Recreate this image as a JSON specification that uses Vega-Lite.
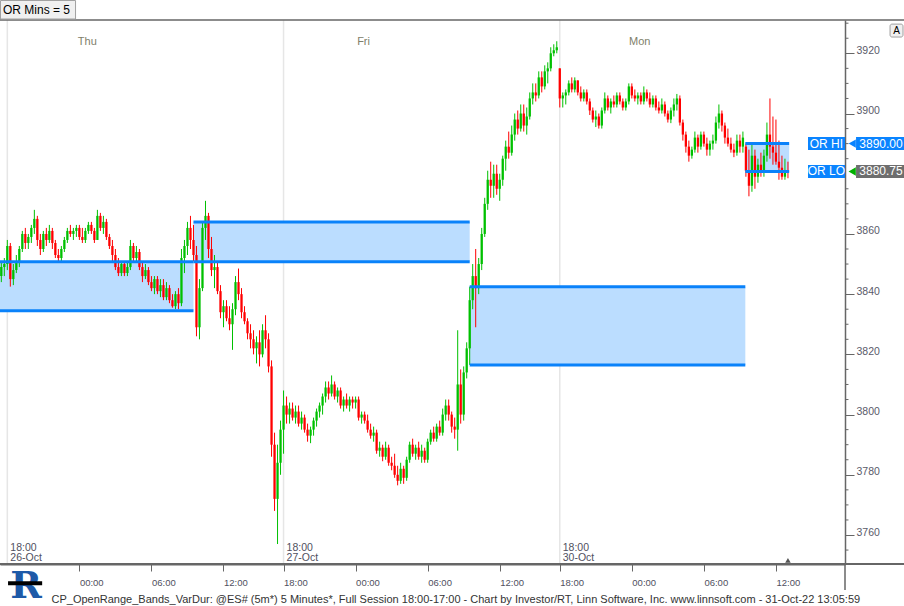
{
"$schema": "https://vega.github.io/schema/vega-lite/v6.json",
"width": 845, "height": 544,
"autosize": {"type": "none"},
"padding": {"left": 0, "top": 20, "right": 59, "bottom": 42},
"background": "white",
"config": {"view": {"stroke": null}, "font": "Liberation Sans"},
"datasets": {
"bars": [
{"t":-0.5,"o":3846,"h":3851,"l":3844,"c":3849},{"t":-0.25,"o":3849,"h":3852,"l":3846,"c":3850},{"t":0,"o":3850,"h":3858,"l":3848,"c":3856},{"t":0.25,"o":3856,"h":3857,"l":3842.5,"c":3845},{"t":0.5,"o":3845,"h":3850,"l":3843,"c":3848},{"t":0.75,"o":3848,"h":3853,"l":3847,"c":3851},{"t":1,"o":3851,"h":3856,"l":3849,"c":3855},{"t":1.25,"o":3855,"h":3861,"l":3854,"c":3860},{"t":1.5,"o":3860,"h":3862,"l":3855,"c":3857},{"t":1.75,"o":3857,"h":3860,"l":3855,"c":3859},
{"t":2,"o":3859,"h":3863,"l":3857,"c":3862},{"t":2.25,"o":3862,"h":3868,"l":3860,"c":3865},{"t":2.5,"o":3865,"h":3866,"l":3856,"c":3858},{"t":2.75,"o":3858,"h":3860,"l":3853,"c":3855},{"t":3,"o":3855,"h":3861,"l":3854,"c":3860},{"t":3.25,"o":3860,"h":3862,"l":3856,"c":3858},{"t":3.5,"o":3858,"h":3863,"l":3857,"c":3861},{"t":3.75,"o":3861,"h":3862,"l":3855,"c":3857},{"t":4,"o":3857,"h":3858,"l":3852,"c":3853},{"t":4.25,"o":3853,"h":3855,"l":3851,"c":3852},
{"t":4.5,"o":3852,"h":3856,"l":3851,"c":3855},{"t":4.75,"o":3855,"h":3859,"l":3854,"c":3858},{"t":5,"o":3858,"h":3862,"l":3857,"c":3861},{"t":5.25,"o":3861,"h":3863,"l":3859,"c":3860},{"t":5.5,"o":3860,"h":3862,"l":3858,"c":3861},{"t":5.75,"o":3861,"h":3863,"l":3859,"c":3862},{"t":6,"o":3862,"h":3863,"l":3858,"c":3859},{"t":6.25,"o":3859,"h":3862,"l":3857,"c":3858},{"t":6.5,"o":3858,"h":3862,"l":3857,"c":3861},{"t":6.75,"o":3861,"h":3864,"l":3860,"c":3863},
{"t":7,"o":3863,"h":3864,"l":3860,"c":3861},{"t":7.25,"o":3861,"h":3862,"l":3857,"c":3858},{"t":7.5,"o":3858,"h":3868,"l":3858,"c":3866},{"t":7.75,"o":3866,"h":3867,"l":3861,"c":3862},{"t":8,"o":3862,"h":3866,"l":3860,"c":3864},{"t":8.25,"o":3864,"h":3865,"l":3858,"c":3859},{"t":8.5,"o":3859,"h":3860,"l":3855,"c":3856},{"t":8.75,"o":3856,"h":3858,"l":3851,"c":3853},{"t":9,"o":3853,"h":3855,"l":3848,"c":3849},{"t":9.25,"o":3849,"h":3852,"l":3846,"c":3847},
{"t":9.5,"o":3847,"h":3851,"l":3846,"c":3850},{"t":9.75,"o":3850,"h":3851,"l":3846,"c":3847},{"t":10,"o":3847,"h":3851,"l":3846,"c":3849},{"t":10.25,"o":3849,"h":3858,"l":3848,"c":3856},{"t":10.5,"o":3856,"h":3857,"l":3851,"c":3852},{"t":10.75,"o":3852,"h":3856,"l":3851,"c":3854},{"t":11,"o":3854,"h":3855,"l":3848,"c":3849},{"t":11.25,"o":3849,"h":3851,"l":3844,"c":3846},{"t":11.5,"o":3846,"h":3850,"l":3845,"c":3848},{"t":11.75,"o":3848,"h":3849,"l":3843,"c":3844},
{"t":12,"o":3844,"h":3846,"l":3841,"c":3842},{"t":12.25,"o":3842,"h":3846,"l":3840,"c":3845},{"t":12.5,"o":3845,"h":3846,"l":3840,"c":3841},{"t":12.75,"o":3841,"h":3845,"l":3839,"c":3843},{"t":13,"o":3843,"h":3845,"l":3838,"c":3839},{"t":13.25,"o":3839,"h":3844,"l":3838,"c":3842},{"t":13.5,"o":3842,"h":3843,"l":3837,"c":3838},{"t":13.75,"o":3838,"h":3840,"l":3835.5,"c":3836},{"t":14,"o":3836,"h":3841,"l":3835,"c":3840},{"t":14.25,"o":3840,"h":3842,"l":3835,"c":3837},
{"t":14.5,"o":3837,"h":3855,"l":3836,"c":3852},{"t":14.75,"o":3852,"h":3858,"l":3847,"c":3856},{"t":15,"o":3856,"h":3864,"l":3853,"c":3862},{"t":15.25,"o":3862,"h":3866,"l":3855,"c":3858},{"t":15.5,"o":3858,"h":3863,"l":3851,"c":3853},{"t":15.75,"o":3853,"h":3856,"l":3826,"c":3829},{"t":16,"o":3829,"h":3845,"l":3825,"c":3842},{"t":16.25,"o":3842,"h":3864,"l":3841,"c":3862},{"t":16.5,"o":3862,"h":3871,"l":3858,"c":3866},{"t":16.75,"o":3866,"h":3867,"l":3852,"c":3855},
{"t":17,"o":3855,"h":3859,"l":3846,"c":3848},{"t":17.25,"o":3848,"h":3853,"l":3842,"c":3849},{"t":17.5,"o":3849,"h":3851,"l":3840,"c":3841},{"t":17.75,"o":3841,"h":3843,"l":3832,"c":3834},{"t":18,"o":3834,"h":3838,"l":3829,"c":3836},{"t":18.25,"o":3836,"h":3838,"l":3831,"c":3832},{"t":18.5,"o":3832,"h":3836,"l":3828,"c":3830},{"t":18.75,"o":3830,"h":3837,"l":3821.5,"c":3835},{"t":19,"o":3835,"h":3846,"l":3833,"c":3844},{"t":19.25,"o":3844,"h":3848.5,"l":3838,"c":3840},
{"t":19.5,"o":3840,"h":3842,"l":3832,"c":3834},{"t":19.75,"o":3834,"h":3836,"l":3830,"c":3831},{"t":20,"o":3831,"h":3832,"l":3825,"c":3827},{"t":20.25,"o":3827,"h":3830,"l":3822,"c":3825},{"t":20.5,"o":3825,"h":3828,"l":3820,"c":3822},{"t":20.75,"o":3822,"h":3826,"l":3817,"c":3824},{"t":21,"o":3824,"h":3828,"l":3816,"c":3820},{"t":21.25,"o":3820,"h":3830,"l":3819,"c":3828},{"t":21.5,"o":3828,"h":3833,"l":3822,"c":3825},{"t":21.75,"o":3825,"h":3827,"l":3814,"c":3816},
{"t":22,"o":3816,"h":3818,"l":3786,"c":3790},{"t":22.25,"o":3790,"h":3794,"l":3768,"c":3772},{"t":22.5,"o":3772,"h":3790,"l":3757,"c":3784},{"t":22.75,"o":3784,"h":3798,"l":3780,"c":3795},
{"t":23,"o":3795,"h":3808,"l":3787,"c":3803},{"t":23.25,"o":3803,"h":3806,"l":3797,"c":3800},{"t":23.5,"o":3800,"h":3804,"l":3797,"c":3802},{"t":23.75,"o":3802,"h":3804,"l":3798,"c":3799},{"t":24,"o":3799,"h":3803,"l":3797,"c":3801},{"t":24.25,"o":3801,"h":3803,"l":3796,"c":3797},{"t":24.5,"o":3797,"h":3801,"l":3795,"c":3799},{"t":24.75,"o":3799,"h":3800,"l":3794,"c":3795},{"t":25,"o":3795,"h":3797,"l":3791,"c":3793},{"t":25.25,"o":3793,"h":3796,"l":3790.5,"c":3795},
{"t":25.5,"o":3795,"h":3799,"l":3793,"c":3798},{"t":25.75,"o":3798,"h":3802,"l":3796,"c":3801},{"t":26,"o":3801,"h":3804,"l":3799,"c":3803},{"t":26.25,"o":3803,"h":3807,"l":3800,"c":3806},{"t":26.5,"o":3806,"h":3811,"l":3804,"c":3809},{"t":26.75,"o":3809,"h":3811,"l":3805,"c":3807},{"t":27,"o":3807,"h":3813,"l":3806,"c":3810},{"t":27.25,"o":3810,"h":3811,"l":3805,"c":3806},{"t":27.5,"o":3806,"h":3809,"l":3804,"c":3808},{"t":27.75,"o":3808,"h":3809,"l":3802,"c":3803},
{"t":28,"o":3803,"h":3806,"l":3801,"c":3805},{"t":28.25,"o":3805,"h":3807,"l":3802,"c":3803},{"t":28.5,"o":3803,"h":3806,"l":3801,"c":3805},{"t":28.75,"o":3805,"h":3806,"l":3802,"c":3804},{"t":29,"o":3804,"h":3806,"l":3802,"c":3805},{"t":29.25,"o":3805,"h":3806,"l":3798,"c":3799},{"t":29.5,"o":3799,"h":3801,"l":3797,"c":3800},{"t":29.75,"o":3800,"h":3801,"l":3797,"c":3798},{"t":30,"o":3798,"h":3800,"l":3794,"c":3795},{"t":30.25,"o":3795,"h":3797,"l":3792,"c":3793},
{"t":30.5,"o":3793,"h":3796,"l":3791,"c":3794},{"t":30.75,"o":3794,"h":3795,"l":3787,"c":3788},{"t":31,"o":3788,"h":3791,"l":3786,"c":3789},{"t":31.25,"o":3789,"h":3790,"l":3784.5,"c":3786},{"t":31.5,"o":3786,"h":3791,"l":3785,"c":3789},{"t":31.75,"o":3789,"h":3790,"l":3783,"c":3784},{"t":32,"o":3784,"h":3786,"l":3781.5,"c":3783},{"t":32.25,"o":3783,"h":3787,"l":3779,"c":3780},{"t":32.5,"o":3780,"h":3783,"l":3776.5,"c":3778},{"t":32.75,"o":3778,"h":3784,"l":3777,"c":3782},
{"t":33,"o":3782,"h":3783,"l":3777,"c":3779},{"t":33.25,"o":3779,"h":3786,"l":3778,"c":3785},{"t":33.5,"o":3785,"h":3791,"l":3784,"c":3790},{"t":33.75,"o":3790,"h":3792,"l":3786,"c":3787},{"t":34,"o":3787,"h":3790,"l":3785,"c":3789},{"t":34.25,"o":3789,"h":3791,"l":3785,"c":3786},{"t":34.5,"o":3786,"h":3790,"l":3784,"c":3788},{"t":34.75,"o":3788,"h":3789,"l":3784,"c":3785},{"t":35,"o":3785,"h":3792,"l":3784,"c":3791},{"t":35.25,"o":3791,"h":3795,"l":3790,"c":3794},
{"t":35.5,"o":3794,"h":3796,"l":3791,"c":3792},{"t":35.75,"o":3792,"h":3797,"l":3791,"c":3796},{"t":36,"o":3796,"h":3798,"l":3793,"c":3794},{"t":36.25,"o":3794,"h":3802,"l":3793,"c":3800},{"t":36.5,"o":3800,"h":3805,"l":3798,"c":3803},{"t":36.75,"o":3803,"h":3805,"l":3798,"c":3800},{"t":37,"o":3800,"h":3801,"l":3794,"c":3796},{"t":37.25,"o":3796,"h":3799,"l":3792,"c":3795},{"t":37.5,"o":3795,"h":3828,"l":3788,"c":3810},{"t":37.75,"o":3810,"h":3815,"l":3797,"c":3800},
{"t":38,"o":3800,"h":3816,"l":3798,"c":3814},{"t":38.25,"o":3814,"h":3824,"l":3812,"c":3822},{"t":38.5,"o":3822,"h":3842.5,"l":3816.5,"c":3838},{"t":38.75,"o":3838,"h":3850,"l":3835,"c":3846},{"t":39,"o":3846,"h":3855,"l":3829,"c":3842},{"t":39.25,"o":3842,"h":3852,"l":3840,"c":3850},{"t":39.5,"o":3850,"h":3862,"l":3848,"c":3860},{"t":39.75,"o":3860,"h":3872,"l":3859,"c":3870},{"t":40,"o":3870,"h":3881,"l":3868,"c":3878},{"t":40.25,"o":3878,"h":3884,"l":3872,"c":3876},
{"t":40.5,"o":3876,"h":3883,"l":3872,"c":3880},{"t":40.75,"o":3880,"h":3883,"l":3873,"c":3875},{"t":41,"o":3875,"h":3880,"l":3871,"c":3878},{"t":41.25,"o":3878,"h":3886,"l":3876,"c":3885},{"t":41.5,"o":3885,"h":3891,"l":3881,"c":3889},{"t":41.75,"o":3889,"h":3894,"l":3885,"c":3887},{"t":42,"o":3887,"h":3896,"l":3886,"c":3893},{"t":42.25,"o":3893,"h":3900,"l":3891,"c":3898},{"t":42.5,"o":3898,"h":3901,"l":3893,"c":3895},{"t":42.75,"o":3895,"h":3903,"l":3894,"c":3900},
{"t":43,"o":3900,"h":3903,"l":3894,"c":3896},{"t":43.25,"o":3896,"h":3902,"l":3893,"c":3899},{"t":43.5,"o":3899,"h":3907,"l":3898,"c":3905},{"t":43.75,"o":3905,"h":3910,"l":3903,"c":3907},{"t":44,"o":3907,"h":3910,"l":3904,"c":3906},{"t":44.25,"o":3906,"h":3914,"l":3905,"c":3912},{"t":44.5,"o":3912,"h":3914,"l":3907,"c":3909},{"t":44.75,"o":3909,"h":3916,"l":3908,"c":3914},{"t":45,"o":3914,"h":3917,"l":3910,"c":3915},{"t":45.25,"o":3915,"h":3922,"l":3914,"c":3920},
{"t":45.5,"o":3920,"h":3923,"l":3919,"c":3921},{"t":45.75,"o":3921,"h":3924,"l":3920,"c":3922},
{"t":46,"o":3915,"h":3915,"l":3902,"c":3905},{"t":46.25,"o":3905,"h":3907,"l":3902,"c":3906},{"t":46.5,"o":3906,"h":3908,"l":3903,"c":3907},{"t":46.75,"o":3907,"h":3911,"l":3906,"c":3910},{"t":47,"o":3910,"h":3912,"l":3907,"c":3908},{"t":47.25,"o":3908,"h":3912,"l":3907,"c":3911},{"t":47.5,"o":3911,"h":3911,"l":3906,"c":3907},{"t":47.75,"o":3907,"h":3909,"l":3904,"c":3905},
{"t":48,"o":3905,"h":3908,"l":3904,"c":3907},{"t":48.25,"o":3907,"h":3908,"l":3903,"c":3904},{"t":48.5,"o":3904,"h":3905,"l":3899.5,"c":3901},{"t":48.75,"o":3901,"h":3902,"l":3897,"c":3898},{"t":49,"o":3898,"h":3901,"l":3895.5,"c":3899},{"t":49.25,"o":3899,"h":3900,"l":3895,"c":3896},{"t":49.5,"o":3896,"h":3902,"l":3895,"c":3901},{"t":49.75,"o":3901,"h":3907,"l":3900,"c":3905},{"t":50,"o":3905,"h":3906,"l":3901,"c":3902},{"t":50.25,"o":3902,"h":3905,"l":3900,"c":3904},
{"t":50.5,"o":3904,"h":3906,"l":3902,"c":3903},{"t":50.75,"o":3903,"h":3907,"l":3902,"c":3906},{"t":51,"o":3906,"h":3907,"l":3903,"c":3904},{"t":51.25,"o":3904,"h":3905,"l":3901,"c":3902},{"t":51.5,"o":3902,"h":3905,"l":3901,"c":3904},{"t":51.75,"o":3904,"h":3910,"l":3903,"c":3909},{"t":52,"o":3909,"h":3910,"l":3905,"c":3906},{"t":52.25,"o":3906,"h":3908,"l":3904,"c":3905},{"t":52.5,"o":3905,"h":3907,"l":3903,"c":3906},{"t":52.75,"o":3906,"h":3907,"l":3903,"c":3904},
{"t":53,"o":3904,"h":3909,"l":3903,"c":3907},{"t":53.25,"o":3907,"h":3908,"l":3904,"c":3905},{"t":53.5,"o":3905,"h":3907,"l":3902,"c":3903},{"t":53.75,"o":3903,"h":3906,"l":3902,"c":3905},{"t":54,"o":3905,"h":3906,"l":3901,"c":3902},{"t":54.25,"o":3902,"h":3904,"l":3900,"c":3901},{"t":54.5,"o":3901,"h":3905,"l":3900,"c":3903},{"t":54.75,"o":3903,"h":3904,"l":3899,"c":3900},{"t":55,"o":3900,"h":3901,"l":3897,"c":3898},{"t":55.25,"o":3898,"h":3902,"l":3896.8,"c":3901},
{"t":55.5,"o":3901,"h":3905,"l":3899,"c":3903},{"t":55.75,"o":3903,"h":3906.5,"l":3901,"c":3905},{"t":56,"o":3905,"h":3906,"l":3896,"c":3897},{"t":56.25,"o":3897,"h":3898,"l":3891,"c":3893},{"t":56.5,"o":3893,"h":3894,"l":3887,"c":3889},{"t":56.75,"o":3889,"h":3891,"l":3884,"c":3886},{"t":57,"o":3886,"h":3889,"l":3885,"c":3888},{"t":57.25,"o":3888,"h":3894,"l":3887,"c":3892},{"t":57.5,"o":3892,"h":3893,"l":3887,"c":3889},{"t":57.75,"o":3889,"h":3894,"l":3888,"c":3893},
{"t":58,"o":3893,"h":3894,"l":3889,"c":3890},{"t":58.25,"o":3890,"h":3892,"l":3886,"c":3888},{"t":58.5,"o":3888,"h":3891,"l":3886,"c":3890},{"t":58.75,"o":3890,"h":3893,"l":3888,"c":3891},{"t":59,"o":3891,"h":3899,"l":3890,"c":3897},{"t":59.25,"o":3897,"h":3903,"l":3895,"c":3900},{"t":59.5,"o":3900,"h":3901,"l":3894,"c":3896},{"t":59.75,"o":3896,"h":3897,"l":3890,"c":3892},{"t":60,"o":3892,"h":3895,"l":3889,"c":3890},{"t":60.25,"o":3890,"h":3892,"l":3887,"c":3888},
{"t":60.5,"o":3888,"h":3890,"l":3885.5,"c":3887},{"t":60.75,"o":3887,"h":3893,"l":3886,"c":3891},{"t":61,"o":3891,"h":3893,"l":3887,"c":3889},{"t":61.25,"o":3889,"h":3894,"l":3887,"c":3892},{"t":61.5,"o":3889,"h":3890,"l":3879,"c":3881},{"t":61.75,"o":3881,"h":3888,"l":3872.5,"c":3876},{"t":62,"o":3876,"h":3890,"l":3874,"c":3886},{"t":62.25,"o":3886,"h":3888,"l":3875,"c":3879},{"t":62.5,"o":3879,"h":3885,"l":3877,"c":3883},{"t":62.75,"o":3883,"h":3887,"l":3879,"c":3881},
{"t":63,"o":3881,"h":3888,"l":3879,"c":3886},{"t":63.25,"o":3886,"h":3897,"l":3884,"c":3893},{"t":63.5,"o":3893,"h":3905,"l":3885,"c":3889},{"t":63.75,"o":3889,"h":3899,"l":3883,"c":3887},{"t":64,"o":3887,"h":3898,"l":3883,"c":3884},{"t":64.25,"o":3884,"h":3891,"l":3878,"c":3882},{"t":64.5,"o":3882,"h":3886,"l":3878,"c":3879},{"t":64.75,"o":3879,"h":3885,"l":3878,"c":3881},{"t":65,"o":3881,"h":3884,"l":3878.5,"c":3880.75}
],
"bands": [
{"x1": -0.61, "x2": 15.5, "lo": 3834.5, "hi": 3850.75},
{"x1": 15.5, "x2": 38.5, "lo": 3850.75, "hi": 3864.0},
{"x1": 38.5, "x2": 61.45, "lo": 3816.5, "hi": 3842.5},
{"x1": 61.45, "x2": 65.1, "lo": 3880.75, "hi": 3890.0}
],
"sessions": [
{"t": 0, "day": "Thu", "date": "26-Oct"},
{"t": 23, "day": "Fri", "date": "27-Oct"},
{"t": 46, "day": "Mon", "date": "30-Oct"}
],
"minorticks": [
{"v":3755},{"v":3765},{"v":3770},{"v":3775},{"v":3785},{"v":3790},{"v":3795},{"v":3805},{"v":3810},{"v":3815},{"v":3825},{"v":3830},{"v":3835},{"v":3845},{"v":3850},{"v":3855},{"v":3865},{"v":3870},{"v":3875},{"v":3885},{"v":3890},{"v":3895},{"v":3905},{"v":3910},{"v":3915},{"v":3925},{"v":3930}
],
"orlabels": [
{"tag": "OR HI", "price": 3890.0, "label": "3890.00"},
{"tag": "OR LO", "price": 3880.75, "label": "3880.75"}
]
},
"layer": [
{
"data": {"name": "sessions"},
"mark": {"type": "rule", "color": "#E6E6E6", "strokeWidth": 1.5},
"encoding": {
"x": {"field": "t", "type": "quantitative", "scale": {"domain": [-0.61, 69.75], "nice": false, "zero": false, "padding": 0}}
}
},
{
"data": {"name": "bands"},
"mark": {"type": "rect", "color": "#BBDDFF"},
"encoding": {
"x": {"field": "x1", "type": "quantitative"},
"x2": {"field": "x2"},
"y": {"field": "lo", "type": "quantitative", "scale": {"domain": [3750.37, 3931.06], "nice": false, "zero": false, "padding": 0}},
"y2": {"field": "hi"}
}
},
{
"data": {"name": "bars"},
"mark": {"type": "rule", "strokeWidth": 1},
"encoding": {
"x": {"field": "t", "type": "quantitative",
"axis": {"orient": "bottom", "values": [6,12,18,23,29,35,41,46,52,58,64],
"labelExpr": "(((18 + datum.value % 23) % 24) < 10 ? '0' : '') + ((18 + datum.value % 23) % 24) + ':00'",
"labelAlign": "left", "labelBaseline": "top", "labelPadding": 6, "labelFontSize": 9.5, "labelColor": "#505060", "labelFont": "Liberation Sans",
"labelFlush": false, "labelOverlap": false,
"tickSize": 7, "tickColor": "#666666", "domainColor": "#666666", "domainWidth": 2, "grid": false,
"title": "CP_OpenRange_Bands_VarDur: @ES# (5m*) 5 Minutes*, Full Session 18:00-17:00 - Chart by Investor/RT, Linn Software, Inc. www.linnsoft.com - 31-Oct-22 13:05:59",
"titleX": 51, "titleY": 35, "titleAlign": "left", "titleAnchor": "start", "titleBaseline": "middle", "titleFontSize": 11, "titleFontWeight": "normal", "titleColor": "#333333", "titleFont": "Liberation Sans"}},
"y": {"field": "l", "type": "quantitative",
"axis": {"orient": "right", "values": [3760,3780,3800,3820,3840,3860,3900,3920],
"format": "d", "tickSize": 9,
"tickColor": "#666666", "domainColor": "#666666", "domainWidth": 1.5,
"labelBaseline": "bottom", "labelOffset": 2, "labelPadding": 2, "labelFontSize": 10.5, "labelColor": "#5a5a6a", "labelFont": "Liberation Sans",
"labelFlush": false, "labelOverlap": false, "grid": false, "title": null}},
"y2": {"field": "h"},
"color": {"condition": {"test": "datum.c >= datum.o", "value": "#00C000"}, "value": "#FF0000"}
}
},
{
"data": {"name": "bars"},
"mark": {"type": "bar", "width": 2.3},
"encoding": {
"x": {"field": "t", "type": "quantitative"},
"y": {"field": "o", "type": "quantitative"},
"y2": {"field": "c"},
"color": {"condition": {"test": "datum.c >= datum.o", "value": "#00C000"}, "value": "#FF0000"}
}
},
{
"data": {"name": "bands"},
"mark": {"type": "rule", "color": "#0A82FA", "strokeWidth": 3},
"encoding": {
"x": {"field": "x1", "type": "quantitative"},
"x2": {"field": "x2"},
"y": {"field": "hi", "type": "quantitative"}
}
},
{
"data": {"name": "bands"},
"mark": {"type": "rule", "color": "#0A82FA", "strokeWidth": 3},
"encoding": {
"x": {"field": "x1", "type": "quantitative"},
"x2": {"field": "x2"},
"y": {"field": "lo", "type": "quantitative"}
}
},
{
"data": {"name": "minorticks"},
"mark": {"type": "rule", "color": "#666666", "strokeWidth": 1},
"encoding": {
"x": {"datum": 69.75, "type": "quantitative"},
"x2": {"datum": 70.04},
"y": {"field": "v", "type": "quantitative"}
}
},
{
"data": {"name": "sessions"},
"mark": {"type": "text", "align": "center", "baseline": "middle", "dx": 80, "fontSize": 11, "color": "#80806A", "font": "Liberation Sans"},
"encoding": {
"x": {"field": "t", "type": "quantitative"},
"y": {"datum": 3923.7, "type": "quantitative"},
"text": {"field": "day"}
}
},
{
"data": {"name": "sessions"},
"mark": {"type": "text", "align": "left", "baseline": "alphabetic", "dx": 3, "fontSize": 10.5, "color": "#505060", "font": "Liberation Sans"},
"encoding": {
"x": {"field": "t", "type": "quantitative"},
"y": {"datum": 3754.7, "type": "quantitative"},
"text": {"value": "18:00"}
}
},
{
"data": {"name": "sessions"},
"mark": {"type": "text", "align": "left", "baseline": "alphabetic", "dx": 3, "fontSize": 10.5, "color": "#505060", "font": "Liberation Sans"},
"encoding": {
"x": {"field": "t", "type": "quantitative"},
"y": {"datum": 3751.3, "type": "quantitative"},
"text": {"field": "date"}
}
},
{
"data": {"values": [{}]},
"mark": {"type": "rule", "color": "#666666", "strokeWidth": 2},
"encoding": {
"x": {"datum": -0.61, "type": "quantitative"},
"x2": {"datum": 74.9},
"y": {"datum": 3750.37, "type": "quantitative"}
}
},
{
"data": {"values": [{}]},
"mark": {"type": "rule", "color": "#666666", "strokeWidth": 1.5},
"encoding": {
"x": {"datum": -0.61, "type": "quantitative"},
"x2": {"datum": 74.9},
"y": {"datum": 3931.06, "type": "quantitative"}
}
},
{
"data": {"values": [{}]},
"mark": {"type": "rule", "color": "#666666", "strokeWidth": 1.5},
"encoding": {
"x": {"datum": 69.75, "type": "quantitative"},
"y": {"datum": 3750.37, "type": "quantitative"},
"y2": {"datum": 3741.7}
}
},
{
"data": {"values": [{}]},
"mark": {"type": "point", "shape": "triangle-up", "filled": true, "size": 30, "color": "#555555", "opacity": 1},
"encoding": {
"x": {"datum": 65, "type": "quantitative"},
"y": {"datum": 3751.6, "type": "quantitative"}
}
},
{
"data": {"values": [{}]},
"mark": {"type": "rect", "fill": "#F0F0F0", "stroke": "#A0A0A0", "strokeWidth": 1},
"encoding": {
"x": {"datum": -0.566, "type": "quantitative"},
"x2": {"datum": 5.68},
"y": {"datum": 3931.39, "type": "quantitative"},
"y2": {"datum": 3937.54}
}
},
{
"data": {"values": [{}]},
"mark": {"type": "text", "align": "left", "baseline": "middle", "fontSize": 12, "color": "#000000", "font": "Liberation Sans"},
"encoding": {
"x": {"datum": -0.36, "type": "quantitative"},
"y": {"datum": 3934.38, "type": "quantitative"},
"text": {"value": "OR Mins = 5"}
}
},
{
"data": {"values": [{}]},
"mark": {"type": "rect", "fill": "#F0F0F0", "stroke": "#A0A0A0", "strokeWidth": 1, "cornerRadius": 2},
"encoding": {
"x": {"datum": 73.5, "type": "quantitative"},
"x2": {"datum": 74.58},
"y": {"datum": 3925.4, "type": "quantitative"},
"y2": {"datum": 3929.7}
}
},
{
"data": {"values": [{}]},
"mark": {"type": "text", "align": "center", "baseline": "middle", "fontSize": 10, "color": "#000000", "font": "Liberation Sans"},
"encoding": {
"x": {"datum": 74.04, "type": "quantitative"},
"y": {"datum": 3927.5, "type": "quantitative"},
"text": {"value": "A"}
}
},
{
"data": {"values": [{}]},
"mark": {"type": "text", "align": "center", "baseline": "middle", "fontSize": 38, "fontWeight": "bold", "color": "#1E5AA8", "font": "DejaVu Serif"},
"encoding": {
"x": {"datum": 1.56, "type": "quantitative"},
"y": {"datum": 3742.6, "type": "quantitative"},
"text": {"value": "R"}
}
},
{
"data": {"values": [{}]},
"mark": {"type": "rule", "color": "#000000", "strokeWidth": 4},
"encoding": {
"x": {"datum": 0.06, "type": "quantitative"},
"x2": {"datum": 2.9},
"y": {"datum": 3744.0, "type": "quantitative"}
}
},
{
"data": {"name": "orlabels"},
"mark": {"type": "rule", "color": "#0A84FF", "strokeWidth": 13},
"encoding": {
"x": {"datum": 66.67, "type": "quantitative"},
"x2": {"datum": 69.75},
"y": {"field": "price", "type": "quantitative"}
}
},
{
"data": {"name": "orlabels"},
"mark": {"type": "rule", "strokeWidth": 13},
"encoding": {
"x": {"datum": 70.67, "type": "quantitative"},
"x2": {"datum": 74.9},
"y": {"field": "price", "type": "quantitative"},
"color": {"condition": {"test": "datum.tag === 'OR HI'", "value": "#0A84FF"}, "value": "#6E6E6E"}
}
},
{
"data": {"name": "orlabels"},
"mark": {"type": "point", "shape": "triangle-left", "filled": true, "size": 70, "opacity": 1},
"encoding": {
"x": {"datum": 70.35, "type": "quantitative"},
"y": {"field": "price", "type": "quantitative"},
"color": {"condition": {"test": "datum.tag === 'OR HI'", "value": "#0A84FF"}, "value": "#00B000"}
}
},
{
"data": {"name": "orlabels"},
"mark": {"type": "text", "align": "center", "baseline": "middle", "fontSize": 12, "color": "white", "font": "Liberation Sans"},
"encoding": {
"x": {"datum": 68.2, "type": "quantitative"},
"y": {"field": "price", "type": "quantitative"},
"text": {"field": "tag"}
}
},
{
"data": {"name": "orlabels"},
"mark": {"type": "text", "align": "center", "baseline": "middle", "fontSize": 12, "color": "white", "font": "Liberation Sans"},
"encoding": {
"x": {"datum": 72.75, "type": "quantitative"},
"y": {"field": "price", "type": "quantitative"},
"text": {"field": "label"}
}
}
]
}
